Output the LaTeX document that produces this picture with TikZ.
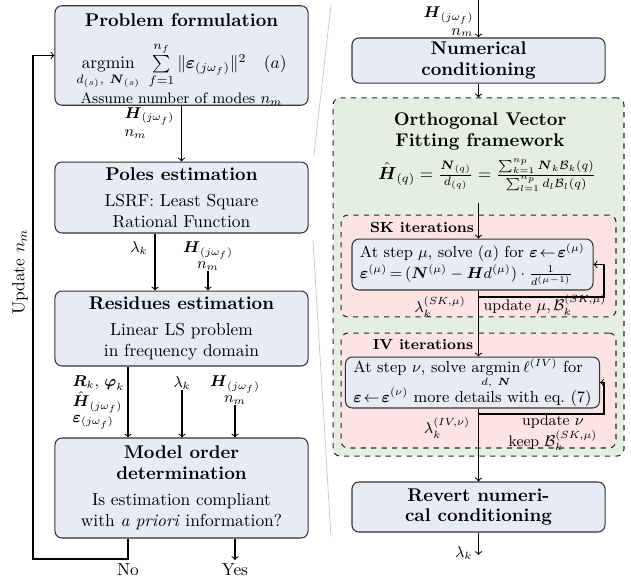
\documentclass[tikz,border=0pt]{standalone}
\usepackage{amsmath}
\usepackage{amssymb}
\usepackage{amsfonts}
\usepackage{tikz}

\definecolor{blockfill}{HTML}{E8EBF5}
\definecolor{ovffill}{HTML}{E5EFE1}
\definecolor{iterfill}{HTML}{FDE3E3}

\newcommand{\btitle}[1]{{\fontsize{10.6}{12.7}\selectfont\bfseries #1}}
\newcommand{\Hjw}{\boldsymbol{H}_{(j\omega_f)}}

\tikzset{
  block/.style={draw=black!80, fill=blockfill, rounded corners=4pt, align=center,
    inner sep=0pt, minimum width=145.5pt},
  innerblock/.style={draw=black!80, fill=blockfill, rounded corners=4pt, align=left,
    inner xsep=4.6pt, inner ysep=0pt, minimum width=138.6pt, minimum height=29.3pt,
    font=\fontsize{9.2}{11}\selectfont},
  ovfframe/.style={draw=black!85, dashed, fill=ovffill, rounded corners=4pt,
    minimum width=167.3pt, minimum height=205.9pt},
  iterframe/.style={draw=black!85, dashed, fill=iterfill, rounded corners=4pt,
    minimum width=158.1pt},
  iterlbl/.style={font=\fontsize{8.4}{10}\selectfont\bfseries},
  lbl/.style={inner sep=0pt, align=center, font=\fontsize{8.8}{9}\selectfont}
}

\begin{document}
\begin{tikzpicture}[x=0.575pt, y=-0.575pt, line width=0.6pt]
  \useasboundingbox (0,0) rectangle (631,579);

  % zoom lines
  \draw[black!22, line width=0.4pt] (331,5) -- (314,155);
  \draw[black!22, line width=0.4pt] (313,240) -- (331,537);

  % left column
  \node[block, minimum height=55.8pt] (form) at (181.5,55.5)
    {\rule{0pt}{11.7pt}\btitle{Problem formulation}\\[8.6pt]
     $\operatorname*{argmin}\limits_{d_{(s)},\ \boldsymbol{N}_{(s)}}\ \sum\limits_{f=1}^{n_f}\|\boldsymbol{\varepsilon}_{(j\omega_f)}\|^2\quad(a)$\\[0.9pt]
     {\fontsize{8.7}{10}\selectfont Assume number of modes $n_m$}};
  \node[block, minimum height=40.8pt] (poles) at (181.5,197.5)
    {\btitle{Poles estimation}\\[3pt] LSRF: Least Square\\ Rational Function};
  \node[block, minimum height=43.1pt] (resid) at (181.5,328.5)
    {\btitle{Residues estimation}\\[3pt] Linear LS problem\\ in frequency domain};
  \node[block, minimum height=57.5pt] (model) at (181.5,488)
    {\btitle{Model order}\\ \btitle{determination}\\[3pt] Is estimation compliant\\ with \emph{a priori} information?};

  \node[lbl, anchor=north west, align=left, font=\fontsize{8.8}{10.4}\selectfont] (hin1) at (124,107) {$\Hjw$\\ $n_m$};
  \draw[->] (form.south) -- (poles.north);

  \node[lbl] (lam1) at (139,248) {$\lambda_k$};
  \draw[->] (poles.south -| 155,0) -- (resid.north -| 155,0);
  \node[lbl] (hin2) at (208,256) {$\Hjw$\\ $n_m$};
  \draw[->] (hin2.south) -- (hin2.south |- resid.north);

  \node[lbl, anchor=north west, align=left] (out1) at (72,375)
    {$\boldsymbol{R}_k,\,\boldsymbol{\varphi}_k$\\ $\hat{\boldsymbol{H}}_{(j\omega_f)}$\\ $\boldsymbol{\varepsilon}_{(j\omega_f)}$};
  \draw[->] (resid.south -| 128,0) -- (model.north -| 128,0);
  \node[lbl] (lam2) at (182,383) {$\lambda_k$};
  \draw[->] (lam2.south) -- (lam2.south |- model.north);
  \node[lbl] (hin3) at (235,390) {$\Hjw$\\ $n_m$};
  \draw[->] (hin3.south) -- (hin3.south |- model.north);

  % decision
  \node[inner sep=0pt] (no) at (128,570) {No};
  \node[inner sep=0pt] (yes) at (235,570) {Yes};
  \draw[->] (model.south -| yes) -- (235,560);
  \draw[->] (model.south -| no) |- (33,559) |- (form.west);
  \node[rotate=90] (upd) at (20,272) {Update $n_m$};

  % right column
  \node[lbl, anchor=east, align=right, font=\fontsize{8.8}{9.8}\selectfont] (hin4) at (474,22) {$\Hjw$\\ $n_m$};
  \node[block, minimum height=25.9pt] (numc) at (478.5,60.5)
    {\btitle{Numerical}\\ \btitle{conditioning}};
  \draw[->] (478.5,0) -- (numc.north);

  \node[ovfframe] (ovf) at (478.5,277) {};
  \node[align=center] (ovft) at (480,131) {\btitle{Orthogonal Vector}\\ \btitle{Fitting framework}};
  \node (ovff) at (487,175)
    {$\hat{\boldsymbol{H}}_{(q)}=\frac{\boldsymbol{N}_{(q)}}{d_{(q)}}
      =\frac{\sum_{k=1}^{n_p}\boldsymbol{N}_k\mathcal{B}_{k}(q)}{\sum_{l=1}^{n_p}d_l\mathcal{B}_{l}(q)}$};
  \draw[->] (numc.south) -- (numc.south |- ovf.north);

  \node[iterframe, minimum height=58.6pt] (sk) at (478.5,266) {};
  \node[iterlbl] (skl) at (422,227) {SK iterations};
  \node[iterframe, minimum height=66.1pt] (iv) at (478.5,390.5) {};
  \node[iterlbl] (ivl) at (423,345) {IV iterations};

  \node[innerblock, text width=129.4pt] (skin) at (472.5,264.5)
    {At step $\mu$, solve $(a)$ for $\boldsymbol{\varepsilon}\!\leftarrow\!\boldsymbol{\varepsilon}^{(\mu)}$\\[1pt]
     $\boldsymbol{\varepsilon}^{(\mu)}\,{=}\,(\boldsymbol{N}^{(\mu)}-\boldsymbol{H}d^{(\mu)})\cdot\frac{1}{d^{(\mu-1)}}$};
  \node[innerblock] (ivin) at (472.5,382.5)
    {At step $\nu$, solve $\operatorname*{argmin}\limits_{d,\ \boldsymbol{N}}\ell^{(IV)}$ for\\[-2pt]
     $\boldsymbol{\varepsilon}\!\leftarrow\!\boldsymbol{\varepsilon}^{(\nu)}$ more details with eq.~(7)};

  \draw[->] (478.5,203) -- (numc.south |- skin.north);
  \draw[->] (skin.south -| numc.south) -- (numc.south |- ivin.north);
  \draw[->] (skin.south -| numc.south) |- (604,297) |- (skin.east);
  \node[lbl] (sklam) at (440,307) {$\lambda_k^{(SK,\mu)}$};
  \node[lbl] (skupd) at (545,305) {update $\mu, \mathcal{B}_k^{(SK,\mu)}$};

  \node[block, minimum height=28.75pt] (revert) at (478.5,507)
    {\btitle{Revert numeri-}\\ \btitle{cal conditioning}};
  \draw[->] (ivin.south -| numc.south) -- (numc.south |- revert.north);
  \draw[->] (ivin.south -| numc.south) |- (604,414) |- (ivin.east);
  \node[lbl] (ivlam) at (447,428) {$\lambda_k^{(IV,\nu)}$};
  \node[lbl, font=\fontsize{8.8}{10.5}\selectfont] (ivupd) at (553,433) {update $\nu$\\ keep $\mathcal{B}_k^{(SK,\mu)}$};

  \draw[->] (revert.south) -- (478.5,555);
  \node[lbl, anchor=east] (lamout) at (473,553) {$\lambda_k$};
\end{tikzpicture}
\end{document}
